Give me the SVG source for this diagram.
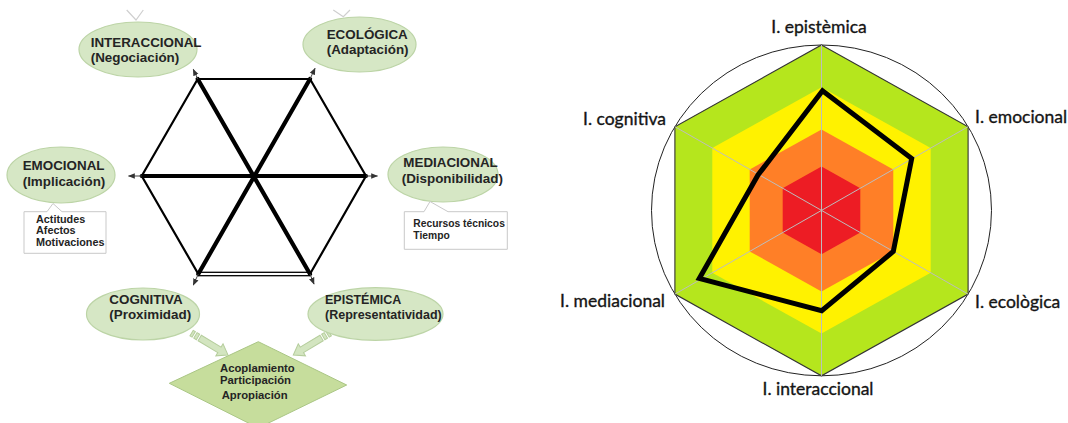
<svg xmlns="http://www.w3.org/2000/svg" width="1068" height="423" viewBox="0 0 1068 423">
<defs>
<style>
.node ellipse{fill:#d6e7c5;stroke:#bcd4a6;stroke-width:1.2}
.t{font-family:"Liberation Sans",Arial,sans-serif;font-weight:bold;fill:#242424}
.big{font-size:13.4px}
.small{font-size:10.8px}
.box{fill:#ffffff;stroke:#c9c9c9;stroke-width:1}
.edge{stroke:#000;stroke-width:2.2;fill:none;stroke-linecap:round}
.diag{stroke:#000;stroke-width:4.2;fill:none;stroke-linecap:round}
.out{stroke:#444;stroke-width:1;fill:none;marker-end:url(#ah)}
.faint{stroke:#cfcfcf;stroke-width:1.2;fill:none}
.barrow{fill:#d3e5c0;stroke:#b5cd9c;stroke-width:1}
.rl{font-family:Lato,"Open Sans",sans-serif;font-size:17.5px;fill:#151515;stroke:#151515;stroke-width:0.35}
.spoke{stroke:#bdbdbd;stroke-width:1}
</style>
<marker id="ah" viewBox="0 0 10 10" refX="9" refY="5" markerWidth="7" markerHeight="7" orient="auto" markerUnits="userSpaceOnUse">
<path d="M0,1 L10,5 L0,9 Z" fill="#333"/>
</marker>
</defs>
<rect width="1068" height="423" fill="#ffffff"/>

<polyline class="faint" points="126.7,10 136,20 143.3,10"/>
<polyline class="faint" points="333.3,10 343.3,16.7 350,10"/>

<g id="connectors">
<line class="edge" x1="197.7" y1="79" x2="310" y2="79"/>
<line class="edge" x1="310" y1="79" x2="366" y2="176"/>
<line class="edge" x1="366" y1="176" x2="310" y2="274"/>
<line class="edge" x1="141.7" y1="176" x2="197.7" y2="79"/>
<line class="edge" x1="141.7" y1="176" x2="198.3" y2="274"/>
<rect x="198.3" y="272.3" width="111.7" height="3.4" fill="#fff" stroke="#000" stroke-width="1.3"/>
<line class="diag" x1="197.7" y1="79" x2="310" y2="274"/>
<line class="diag" x1="310" y1="79" x2="198.3" y2="274"/>
<line class="diag" x1="141.7" y1="176" x2="366" y2="176"/>
<line class="out" x1="197.7" y1="79" x2="193.3" y2="69.3"/>
<line class="out" x1="310" y1="79" x2="315" y2="68.3"/>
<line class="out" x1="141.7" y1="176" x2="128.5" y2="176"/>
<line class="out" x1="366" y1="176" x2="377.5" y2="176"/>
<line class="out" x1="198.3" y1="274" x2="193.3" y2="285"/>
<line class="out" x1="310" y1="274" x2="314" y2="284"/>
<g>
<polygon class="barrow" transform="translate(228,355) rotate(211)" points="0,0 10,-7 10,-3.2 33,-3.2 33,3.2 10,3.2 10,7"/>
<rect class="barrow" transform="translate(228,355) rotate(211)" x="35" y="-3.2" width="3" height="6.4"/>
<rect class="barrow" transform="translate(228,355) rotate(211)" x="40" y="-3.2" width="2.5" height="6.4"/>
<polygon class="barrow" transform="translate(293.3,355) rotate(-31)" points="0,0 10,-7 10,-3.2 33,-3.2 33,3.2 10,3.2 10,7"/>
<rect class="barrow" transform="translate(293.3,355) rotate(-31)" x="35" y="-3.2" width="3" height="6.4"/>
<rect class="barrow" transform="translate(293.3,355) rotate(-31)" x="40" y="-3.2" width="2.5" height="6.4"/>
</g>
</g>

<g id="interaccional" class="node">
<ellipse cx="138" cy="49.5" rx="59" ry="27.5"/>
<text class="t big" x="90.7" y="46.7">INTERACCIONAL</text>
<text class="t big" x="90.7" y="61.7">(Negociación)</text>
</g>
<g id="ecologica" class="node">
<ellipse cx="359.5" cy="44.5" rx="56.5" ry="27.5"/>
<text class="t big" x="326.7" y="39">ECOLÓGICA</text>
<text class="t big" x="326.7" y="54.3">(Adaptación)</text>
</g>
<g id="emocional" class="node">
<ellipse cx="61" cy="175" rx="54" ry="28"/>
<text class="t big" x="22.7" y="170">EMOCIONAL</text>
<text class="t big" x="22.7" y="185.5">(Implicación)</text>
</g>
<g id="emocional-note">
<path class="box" d="M24,211.7 L47,211.7 L53,203.5 L62,211.7 L106,211.7 L106,253.3 L24,253.3 Z"/>
<text class="t small" x="36" y="222.7">Actitudes</text>
<text class="t small" x="36" y="234.3">Afectos</text>
<text class="t small" x="36" y="246">Motivaciones</text>
</g>
<g id="mediacional" class="node">
<ellipse cx="443" cy="174.5" rx="55" ry="27.5"/>
<text class="t big" x="403.3" y="167.3">MEDIACIONAL</text>
<text class="t big" x="401.7" y="183.3">(Disponibilidad)</text>
</g>
<g id="mediacional-note">
<path class="box" d="M404.3,211.7 L424,211.7 L430,201.5 L448,211.7 L507.3,211.7 L507.3,249.3 L404.3,249.3 Z"/>
<text class="t" font-size="10.3" x="413.3" y="227.3">Recursos técnicos</text>
<text class="t" font-size="10.3" x="413.3" y="239">Tiempo</text>
</g>
<g id="cognitiva" class="node">
<ellipse cx="143" cy="314" rx="56.5" ry="26"/>
<text class="t big" x="109.3" y="304.3">COGNITIVA</text>
<text class="t big" x="109.3" y="319.3">(Proximidad)</text>
</g>
<g id="epistemica" class="node">
<ellipse cx="375.5" cy="314" rx="67.5" ry="26.3"/>
<text class="t" font-size="12.5" x="325" y="304.3">EPISTÉMICA</text>
<text class="t" font-size="12.5" x="325" y="319.3">(Representatividad)</text>
</g>
<g id="resultado">
<polygon points="258.3,341.7 346.7,385 258.3,428 169.3,383.3" fill="#c6dd9c" stroke="#aac685" stroke-width="1"/>
<text class="t" font-size="11.3" x="220" y="371.7">Acoplamiento</text>
<text class="t" font-size="11.3" x="220" y="384.3">Participación</text>
<text class="t" font-size="11.3" x="221.7" y="399">Apropiación</text>
</g>

<g id="radar">
<ellipse cx="821.5" cy="210.4" rx="170" ry="165.4" fill="none" stroke="#222" stroke-width="1"/>
<polygon points="821.5,45 968.1,126.7 968.1,294.1 821.5,375.8 674.9,294.1 674.9,126.7" fill="#b5e61d" stroke="#333" stroke-width="1.1"/>
<polygon points="821.5,87.2 930.7,148 930.7,272.8 821.5,333.6 712.3,272.8 712.3,148" fill="#fff200"/>
<polygon points="821.5,129.4 893.3,169.4 893.3,251.4 821.5,291.4 749.7,251.4 749.7,169.4" fill="#ff7f27"/>
<polygon points="821.5,166.6 860.3,188.2 860.3,232.6 821.5,254.2 782.7,232.6 782.7,188.2" fill="#ed1c24"/>
<line class="spoke" x1="821.5" y1="45" x2="821.5" y2="375.8"/>
<line class="spoke" x1="968.1" y1="126.7" x2="674.9" y2="294.1"/>
<line class="spoke" x1="968.1" y1="294.1" x2="674.9" y2="126.7"/>
<polygon points="822.5,90.7 911.7,158.5 893.3,251.5 821.7,310.7 699.3,278.5 758,175" fill="none" stroke="#000" stroke-width="5" stroke-linejoin="miter"/>
<text class="rl" x="819" y="33" text-anchor="middle">I. epistèmica</text>
<text class="rl" x="975" y="123">I. emocional</text>
<text class="rl" x="666" y="125" text-anchor="end">I. cognitiva</text>
<text class="rl" x="665" y="306.5" text-anchor="end">I. mediacional</text>
<text class="rl" x="975" y="308">I. ecològica</text>
<text class="rl" x="818" y="395" text-anchor="middle">I. interaccional</text>
</g>
</svg>
